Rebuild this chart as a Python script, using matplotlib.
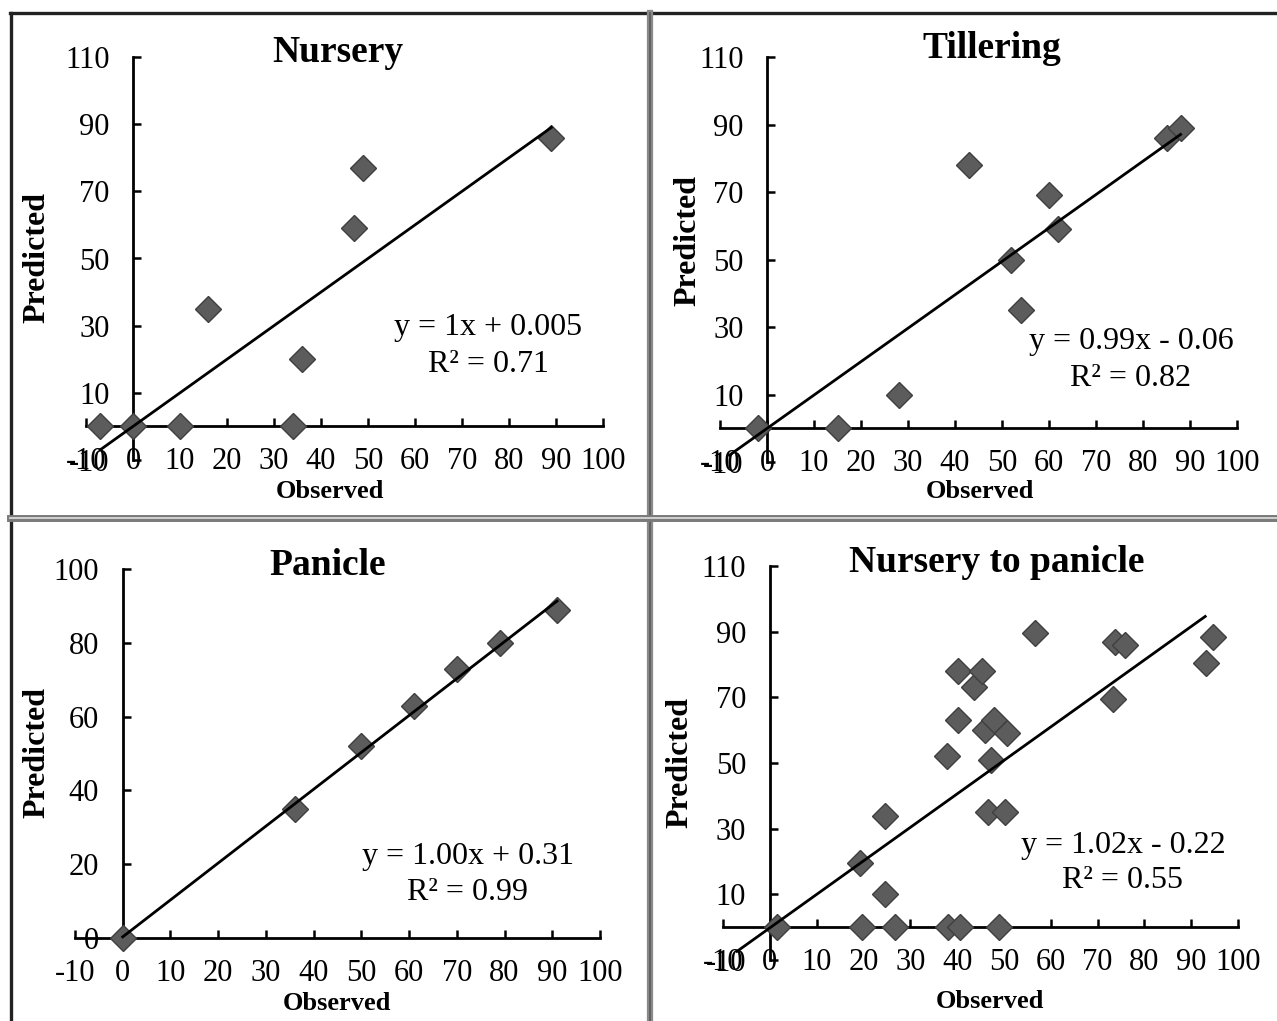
import matplotlib
matplotlib.use('Agg')
import matplotlib.pyplot as plt
from matplotlib.lines import Line2D

plt.rcParams['font.family'] = ['Liberation Serif', 'DejaVu Serif']
plt.rcParams['axes.unicode_minus'] = False

# ---------------- data ----------------
titles = ["Nursery", "Tillering", "Panicle", "Nursery to panicle"]

nursery_obs = [-7, 0, 10, 16, 34, 36, 47, 49, 89]
nursery_pred = [0, 0, 0, 35, 0, 20, 59, 77, 86]

tillering_obs = [-2, 15, 28, 43, 52, 54, 60, 62, 85, 88]
tillering_pred = [0, 0, 10, 78, 50, 35, 69, 59, 86, 89]

panicle_obs = [0, 36, 50, 61, 70, 79, 91]
panicle_pred = [0, 35, 52, 63, 73, 80, 89]

all_obs = [1.5, 19.6, 26.7, 38, 40.6, 49, 19.3, 24.5, 24.5, 37.8, 40.2, 40.2, 43.7,
           45.4, 45.9, 47.2, 46.7, 50.2, 47.9, 50.7, 56.6, 73.3, 73.7, 75.9, 93.1, 94.6]
all_pred = [0, 0, 0, 0, 0, 0, 19.5, 10, 34, 52, 63, 78, 73,
            78, 60, 51, 35, 35, 63, 59, 89.5, 69.5, 87, 86, 80.5, 88.5]

slopes = [1.0, 0.99, 1.00, 1.02]
intercepts = [0.005, -0.06, 0.31, -0.22]
trend_x = [[-7, 89], [-8, 88], [0, 91], [-7, 93]]
equations = ["y = 1x + 0.005", "y = 0.99x - 0.06", "y = 1.00x + 0.31", "y = 1.02x - 0.22"]
r2_labels = ["R\u00b2 = 0.71", "R\u00b2 = 0.82", "R\u00b2 = 0.99", "R\u00b2 = 0.55"]

x_ticks = [-10, 0, 10, 20, 30, 40, 50, 60, 70, 80, 90, 100]
y_ticks_a = [-10, 10, 30, 50, 70, 90, 110]
y_ticks_b = [0, 20, 40, 60, 80, 100]

obs_list = [nursery_obs, tillering_obs, panicle_obs, all_obs]
pred_list = [nursery_pred, tillering_pred, panicle_pred, all_pred]
ylims = [(-10, 110), (-10, 110), (0, 100), (-10, 110)]
yticks_list = [y_ticks_a, y_ticks_a, y_ticks_b, y_ticks_a]

# ---------------- layout (pixels) ----------------
W, H = 1277, 1021
fig = plt.figure(figsize=(W / 100, H / 100), dpi=100)


def rect(x0, x1, ytop, ybot):
    return [x0 / W, 1 - ybot / H, (x1 - x0) / W, (ybot - ytop) / H]


def fx(px):
    return px / W


def fy(py):
    return 1 - py / H


# axes boxes: x from -10..100, y from ylim
boxes = [
    (86, 603, 57, 460),
    (720, 1237, 57, 462),
    (75, 600, 569, 938),
    (723, 1238, 566, 960),
]
title_pos = [(338, 53), (992, 48), (328, 565), (997, 562)]
ylabel_pos = [(37, 257), (688, 240), (37, 752), (680, 762)]
xlabel_pos = [(330, 491), (980, 491), (337, 1003), (990, 1001)]
eq_pos = [(488, 328), (1131, 341), (468, 856), (1123, 845)]
r2_pos = [(488, 365), (1131, 378), (468, 892), (1123, 881)]

marker_face = "#5c5c5c"
marker_edge = "#3f3f3f"

for i in range(4):
    ax = fig.add_axes(rect(*boxes[i]))
    ax.set_xlim(-10, 100)
    ax.set_ylim(*ylims[i])
    ax.patch.set_visible(False)
    for s in ["top", "right"]:
        ax.spines[s].set_visible(False)
    ax.spines["left"].set_position(("data", 0))
    ax.spines["bottom"].set_position(("data", 0))
    for s in ["left", "bottom"]:
        ax.spines[s].set_linewidth(2.0)
        ax.spines[s].set_color("black")
    ax.set_xticks(x_ticks)
    ax.set_yticks(yticks_list[i])
    ax.tick_params(axis="both", direction="in", length=6, width=1.8,
                   labelsize=22, colors="black")
    ax.tick_params(axis="x", pad=15)
    ax.tick_params(axis="y", pad=17)

    # trendline
    tx = trend_x[i]
    ty = [slopes[i] * v + intercepts[i] for v in tx]
    ax.plot(tx, ty, color="black", lw=2.0, zorder=5, clip_on=False)

    # points
    ax.plot(obs_list[i], pred_list[i], linestyle="none", marker="D", ms=13,
            mfc=marker_face, mec=marker_edge, mew=1.0, zorder=4, clip_on=False)

    fig.text(fx(title_pos[i][0]), fy(title_pos[i][1]), titles[i], fontsize=27,
             fontweight="bold", ha="center", va="center")
    fig.text(fx(ylabel_pos[i][0]), fy(ylabel_pos[i][1]), "Predicted", fontsize=23,
             fontweight="bold", ha="center", va="center", rotation=90)
    fig.text(fx(xlabel_pos[i][0]), fy(xlabel_pos[i][1]), "Observed", fontsize=19,
             fontweight="bold", ha="center", va="center")
    fig.text(fx(eq_pos[i][0]), fy(eq_pos[i][1]), equations[i], fontsize=23,
             ha="center", va="center")
    fig.text(fx(r2_pos[i][0]), fy(r2_pos[i][1]), r2_labels[i], fontsize=23,
             ha="center", va="center")

# ---------------- frame / dividers ----------------
fig.add_artist(Line2D([fx(10), 1], [fy(13), fy(13)], color="#222222", lw=2.4))
fig.add_artist(Line2D([fx(11), fx(11)], [fy(13), 0], color="#222222", lw=2.4))
fig.add_artist(Line2D([fx(650), fx(650)], [fy(13), 0], color="#8a8a8a", lw=4.5))
fig.add_artist(Line2D([fx(650), fx(650)], [fy(13), 0], color="#5a5a5a", lw=1.2))
fig.add_artist(Line2D([fx(10), 1], [fy(518), fy(518)], color="#7a7a7a", lw=5))
fig.add_artist(Line2D([fx(10), 1], [fy(518), fy(518)], color="#d8d8d8", lw=1.3))

fig.savefig("out.png", dpi=100)
